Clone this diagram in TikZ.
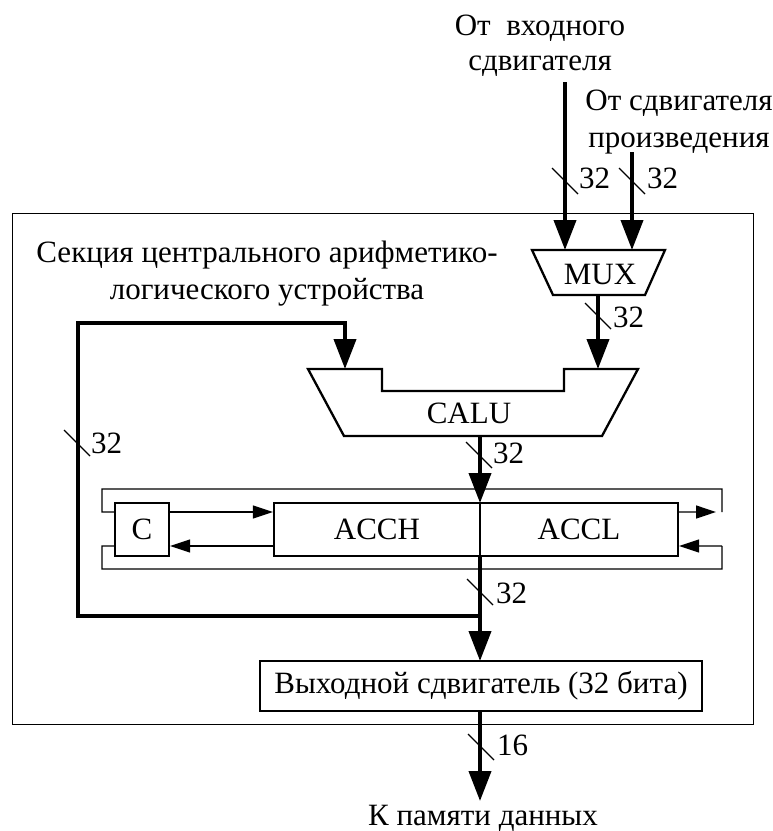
\documentclass[tikz,border=0pt]{standalone}
\usepackage{fontspec}
\setmainfont{Liberation Serif}
\usetikzlibrary{arrows.meta}
\begin{document}
\begin{tikzpicture}[x=1bp,y=-1bp,
  bus/.style={line width=4bp},
  busarrow/.style={bus,-{Triangle[length=30bp,width=22bp]}},
  thinline/.style={line width=1.3bp},
  thinarrow/.style={thinline,-{Triangle[length=20bp,width=13bp]}},
  blk/.style={draw,line width=2.3bp,inner sep=0pt},
  lbl/.style={font=\fontsize{31bp}{37bp}\selectfont,inner sep=0pt},
  slashmark/.style={line width=1.3bp}]
\useasboundingbox (0,0) rectangle (773,831);
% frame
\node[draw,thinline,minimum width=741bp,minimum height=511bp,anchor=north west,inner sep=0pt] (frame) at (12,213) {};
% top labels
\node[lbl,anchor=base] (in1a) at (540,35) {От\ \ входного};
\node[lbl,anchor=base] (in1b) at (540,70) {сдвигателя};
\node[lbl,anchor=base] (in2a) at (679,110) {От сдвигателя};
\node[lbl,anchor=base] (in2b) at (679,147) {произведения};
% section label
\node[lbl,anchor=base] (sec1) at (267,262) {Секция центрального арифметико-};
\node[lbl,anchor=base] (sec2) at (267,299) {логического устройства};
% MUX
\draw[line width=2.3bp,line join=miter] (532,250) -- (665,250) -- (645,295) -- (553,295) -- cycle;
\node[lbl,anchor=base] (mux) at (600,284) {MUX};
\coordinate (in1top) at (565,82);
\coordinate (in2top) at (632,152);
\coordinate (muxin1) at (565,250);
\coordinate (muxin2) at (632,250);
\coordinate (muxout) at (598,295);
\draw[busarrow] (in1top) -- (muxin1);
\draw[busarrow] (in2top) -- (muxin2);
% CALU
\draw[line width=2.3bp,line join=miter] (308,369) -- (382,369) -- (382,391) -- (564,391) -- (564,369) -- (638,369) -- (602,436) -- (344,436) -- cycle;
\node[lbl,anchor=base] (calu) at (469,423) {CALU};
\coordinate (calul) at (345,369);
\coordinate (calur) at (598,369);
\coordinate (caluout) at (480,436);
\draw[busarrow] (muxout) -- (calur);
% ACC
\node[blk,minimum width=404bp,minimum height=53bp] (acc) at (476,529.5) {};
\node[lbl] (acch) at (377,529.5) {ACCH};
\node[lbl] (accl) at (579,529.5) {ACCL};
\node[blk,minimum width=54bp,minimum height=53bp,font=\fontsize{31bp}{37bp}\selectfont] (c) at (142,529.5) {C};
\coordinate (acctop) at (480,503);
\coordinate (accbot) at (480,556);
\draw[thinline] (acctop) -- (accbot);
\draw[busarrow] (caluout) -- (acctop);
\draw[thinarrow] ([yshift=17.5bp]c.east) -- ([yshift=17.5bp]acc.west);
\draw[thinarrow] ([yshift=-16.5bp]acc.west) -- ([yshift=-16.5bp]c.east);
\coordinate (loopTR) at (722,512);
\coordinate (loopBR) at (722,546);
\draw[thinline] ([yshift=17.5bp]c.west) -- (102,512) -- (102,489) -- (722,489) -- (loopTR);
\draw[thinarrow] ([yshift=17.5bp]acc.east) -- (716,512);
\draw[thinline] ([yshift=-16.5bp]c.west) -- (102,546) -- (102,569) -- (722,569) -- (loopBR);
\draw[thinarrow] (loopBR) -- ([yshift=-16.5bp]acc.east);
% output shifter
\node[blk,minimum width=442bp,minimum height=50bp,font=\fontsize{31bp}{37bp}\selectfont] (outsh) at (481,686) {Выходной сдвигатель (32 бита)};
\coordinate (outtop) at (480,661);
\coordinate (outbot) at (480,711);
\coordinate (fbj) at (480,616);
\coordinate (fbbl) at (78,616);
\coordinate (fbtl) at (78,323);
\coordinate (fbtr) at (345,323);
\draw[busarrow] (accbot) -- (outtop);
\draw[busarrow,line join=miter] (fbj) -- (fbbl) -- (fbtl) -- (fbtr) -- (calul);
% to memory
\node[lbl,anchor=base] (mem) at (483,825) {К памяти данных};
\coordinate (memtip) at (480,801);
\draw[busarrow] (outbot) -- (memtip);
% bus width marks
\draw[slashmark] (552,168) -- (578,194);
\node[lbl,anchor=base west] (w1) at (579,188) {32};
\draw[slashmark] (619,168) -- (645,194);
\node[lbl,anchor=base west] (w2) at (647,188) {32};
\draw[slashmark] (585,303) -- (611,329);
\node[lbl,anchor=base west] (w3) at (613,327) {32};
\draw[slashmark] (466,442) -- (492,468);
\node[lbl,anchor=base west] (w4) at (493,463) {32};
\draw[slashmark] (64,430) -- (90,456);
\node[lbl,anchor=base west] (w5) at (91,453) {32};
\draw[slashmark] (467,579) -- (493,605);
\node[lbl,anchor=base west] (w6) at (496,603) {32};
\draw[slashmark] (468,734) -- (494,760);
\node[lbl,anchor=base west] (w7) at (497,755) {16};
\end{tikzpicture}
\end{document}
